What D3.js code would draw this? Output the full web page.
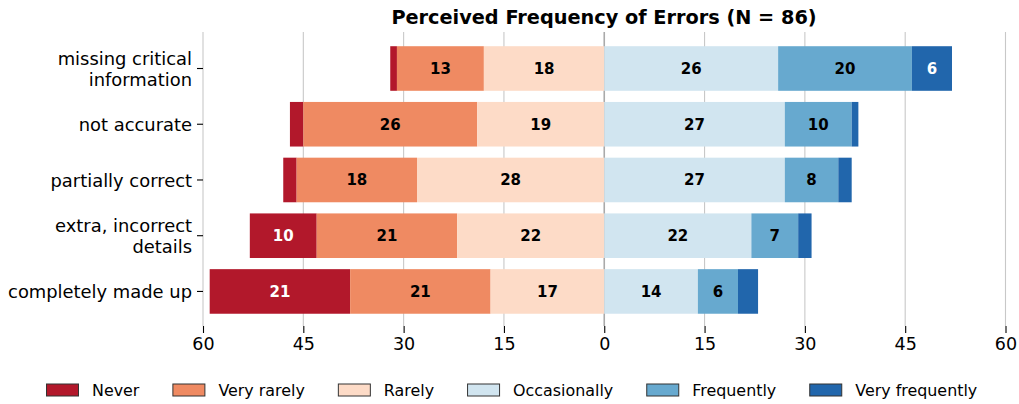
<!DOCTYPE html>
<html>
<head>
<meta charset="utf-8">
<script src="https://cdn.jsdelivr.net/npm/d3@7"></script>
<style>
  html, body { margin: 0; padding: 0; background: #fff; }
  svg { display: block; font-family: "DejaVu Sans", sans-serif; }
</style>
</head>
<body>
<svg id="chart" width="1019" height="404"></svg>
<script>
const title = "Perceived Frequency of Errors (N = 86)";
const categories = [
  ["missing critical", "information"],
  ["not accurate"],
  ["partially correct"],
  ["extra, incorrect", "details"],
  ["completely made up"]
];
const levels = ["Never", "Very rarely", "Rarely", "Occasionally", "Frequently", "Very frequently"];
const colors = ["#b2182b", "#ef8a62", "#fddbc7", "#d1e5f0", "#67a9cf", "#2166ac"];
const textColors = ["#ffffff", "#000000", "#000000", "#000000", "#000000", "#ffffff"];
// values per level, one entry per category (top to bottom)
const never          = [1, 2, 2, 10, 21];
const veryRarely     = [13, 26, 18, 21, 21];
const rarely         = [18, 19, 28, 22, 17];
const occasionally   = [26, 27, 27, 22, 14];
const frequently     = [20, 10, 8, 7, 6];
const veryFrequently = [6, 1, 2, 2, 3];
const xTicks = [-60, -45, -30, -15, 0, 15, 30, 45, 60];
const labelThreshold = 4;

const series = [never, veryRarely, rarely, occasionally, frequently, veryFrequently];

const svg = d3.select("#chart");
const x = d3.scaleLinear().domain([-60, 60]).range([203, 1005.5]);
const y = d3.scaleLinear().domain([-0.655, 4.62]).range([32, 326]);
const barH = y(0.4) - y(-0.4);
const plotTop = 32, plotBottom = 326;

// gridlines
svg.append("g").selectAll("line").data(xTicks).join("line")
  .attr("x1", d => x(d)).attr("x2", d => x(d))
  .attr("y1", plotTop).attr("y2", plotBottom)
  .attr("stroke", d => d === 0 ? "#aaaaaa" : "#c8c8c8")
  .attr("stroke-width", d => d === 0 ? 1.6 : 1.1);

// build segments
const segs = [];
categories.forEach((cat, i) => {
  const neg = series[0][i] + series[1][i] + series[2][i];
  let start = -neg;
  series.forEach((s, k) => {
    segs.push({ i, k, v: s[i], x0: start, x1: start + s[i] });
    start += s[i];
  });
});

svg.append("g").selectAll("rect").data(segs).join("rect")
  .attr("x", d => x(d.x0))
  .attr("width", d => x(d.x1) - x(d.x0))
  .attr("y", d => y(d.i) - barH / 2)
  .attr("height", barH)
  .attr("fill", d => colors[d.k]);

svg.append("g").selectAll("text").data(segs.filter(d => d.v >= labelThreshold)).join("text")
  .attr("x", d => x((d.x0 + d.x1) / 2))
  .attr("y", d => y(d.i))
  .attr("dy", "0.36em")
  .attr("text-anchor", "middle")
  .attr("font-weight", "bold")
  .attr("font-size", 15)
  .attr("fill", d => textColors[d.k])
  .text(d => d.v);

// x axis
const xAxis = d3.axisBottom(x).tickValues(xTicks).tickFormat(d => Math.abs(d)).tickSize(7).tickPadding(5);
const gx = svg.append("g").attr("transform", `translate(0,${plotBottom})`).call(xAxis);
gx.select(".domain").remove();
gx.selectAll(".tick line").attr("stroke", "#000").attr("stroke-width", 1.1);
gx.selectAll(".tick text").attr("font-size", 17.5).attr("font-family", "DejaVu Sans").attr("fill", "#000");

// y axis tick marks and labels
const gy = svg.append("g");
categories.forEach((lines, i) => {
  const cy = y(i);
  gy.append("line").attr("x1", 197).attr("x2", 203).attr("y1", cy).attr("y2", cy)
    .attr("stroke", "#000").attr("stroke-width", 1.1);
  const t = gy.append("text").attr("text-anchor", "end").attr("font-size", 17.9).attr("fill", "#000");
  const lh = 21;
  lines.forEach((ln, j) => {
    t.append("tspan").attr("x", 192)
      .attr("y", cy + (j - (lines.length - 1) / 2) * lh)
      .attr("dy", "0.38em")
      .text(ln);
  });
});

// title
svg.append("text").attr("x", 604).attr("y", 17).attr("dy", "0.36em")
  .attr("text-anchor", "middle").attr("font-weight", "bold").attr("font-size", 19.3)
  .text(title);

// legend
const lg = svg.append("g");
let lx = 46;
const ly = 390;
levels.forEach((lev, k) => {
  lg.append("rect").attr("x", lx + 0.5).attr("y", ly - 6).attr("width", 32).attr("height", 12)
    .attr("fill", colors[k]).attr("stroke", "#333").attr("stroke-width", 1);
  const t = lg.append("text").attr("x", lx + 46).attr("y", ly).attr("dy", "0.36em")
    .attr("font-size", 15.9).attr("fill", "#000").text(lev);
  const w = t.node().getComputedTextLength();
  lx = lx + 46 + w + 33;
});
</script>
</body>
</html>
